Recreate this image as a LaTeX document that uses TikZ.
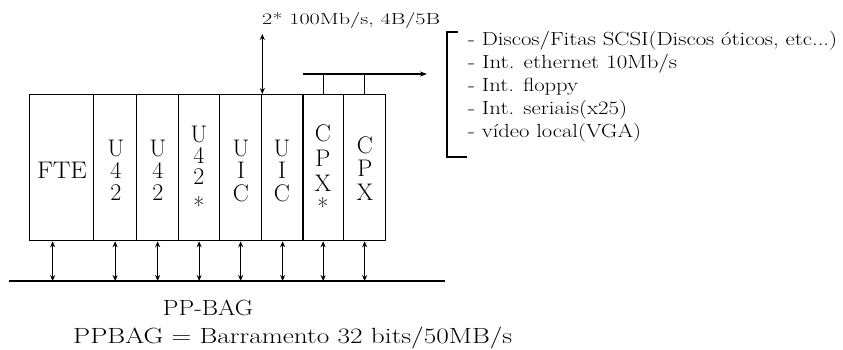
\documentclass[tikz,border=0pt]{standalone}
\usepackage{graphicx}
\usetikzlibrary{arrows.meta}
\newcommand{\wfit}[2]{\resizebox{#1}{\height}{#2}}
\begin{document}
\begin{tikzpicture}[x=1pt,y=-1pt,
  col/.style={draw, line width=1.3pt, inner sep=0pt, minimum height=146pt, anchor=north west},
  ctext/.style={inner sep=0pt, anchor=base, align=center},
  thin/.style={line width=1.2pt},
  biarrow/.style={line width=1.2pt, {Stealth[length=6pt,width=5pt]}-{Stealth[length=6pt,width=5pt]}},
  lbl/.style={inner sep=0pt, anchor=base west},
  listfont/.style={font=\fontsize{19}{22}\selectfont}]
\useasboundingbox (0,0) rectangle (843,349);
% columns
\node[col, minimum width=64pt] (fte)  at (29,94)  {};
\node[col, minimum width=43pt] (u1)   at (93,94)  {};
\node[col, minimum width=42pt] (u2)   at (136,94) {};
\node[col, minimum width=41pt] (u3)   at (178,94) {};
\node[col, minimum width=42pt] (uic1) at (219,94) {};
\node[col, minimum width=42pt] (uic2) at (261,94) {};
\node[col, minimum width=41pt] (cpx1) at (302,94) {};
\node[col, minimum width=42pt] (cpx2) at (343,94) {};
% column texts (anchored at baseline of last line)
\node[ctext, font=\fontsize{24}{22}\selectfont] (tfte) at (62,178) {\wfit{50pt}{FTE}};
\node[ctext, font=\fontsize{24}{22}\selectfont] (tu1) at (116,200) {U\\4\\2};
\node[ctext, font=\fontsize{24}{22}\selectfont] (tu2) at (158,200) {U\\4\\2};
\node[ctext, font=\fontsize{24}{21}\selectfont] (tu3) at (199,214) {U\\4\\2\\[9pt]*};
\node[ctext, font=\fontsize{24}{22.5}\selectfont] (tuic1) at (241,201) {U\\I\\C};
\node[ctext, font=\fontsize{24}{22.5}\selectfont] (tuic2) at (282,201) {U\\I\\C};
\node[ctext, font=\fontsize{24}{25}\selectfont] (tcpx1) at (323,215) {C\\P\\X\\[-1pt]*};
\node[ctext, font=\fontsize{24}{23.5}\selectfont] (tcpx2) at (365,200) {C\\P\\X};
% bus
\coordinate (busL) at (9,281);
\coordinate (busR) at (445,281);
\draw[thin] (busL) -- (busR);
\draw[biarrow] ([xshift=-9pt]fte.south) -- ([xshift=-9pt]fte.south |- busL);
\foreach \n in {u1,u2,u3,uic1,uic2,cpx1,cpx2}
  \draw[biarrow] (\n.south) -- (\n.south |- busL);
% upward link
\path (uic1.north east) ++(0,-60) coordinate (up);
\draw[biarrow] (uic1.north east) -- (up);
\node[lbl, font=\fontsize{16}{18}\selectfont] (rate) at (262,24) {\wfit{178pt}{2* 100Mb/s, 4B/5B}};
% CPX link
\coordinate (cpxL) at (303,74);
\coordinate (cpxR) at (427,74);
\draw[thin, -{Stealth[length=7pt,width=5pt]}] (cpxL) -- (cpxR);
\draw[thin] (cpx1.north |- cpxL) -- (cpx1.north);
\draw[thin] (cpx2.north |- cpxL) -- (cpx2.north);
% list with bracket
\draw[thin] (458,32) -- (447,32) -- (447,157) -- (467,157);
\node[lbl, listfont] (l1) at (468,45)  {\wfit{369pt}{- Discos/Fitas SCSI(Discos óticos, etc...)}};
\node[lbl, listfont] (l2) at (468,68)  {\wfit{209pt}{- Int. ethernet 10Mb/s}};
\node[lbl, listfont] (l3) at (468,91)  {\wfit{110pt}{- Int. floppy}};
\node[lbl, listfont] (l4) at (468,114) {\wfit{159pt}{- Int. seriais(x25)}};
\node[lbl, listfont] (l5) at (468,137) {\wfit{173pt}{- vídeo local(VGA)}};
% bottom texts
\node[inner sep=0pt, anchor=base, font=\fontsize{22}{24}\selectfont] (ppbag) at (208,315) {\wfit{90pt}{PP-BAG}};
\node[lbl, font=\fontsize{22}{24}\selectfont] (def) at (73,343) {\wfit{439pt}{PPBAG = Barramento 32 bits/50MB/s}};
\end{tikzpicture}
\end{document}
